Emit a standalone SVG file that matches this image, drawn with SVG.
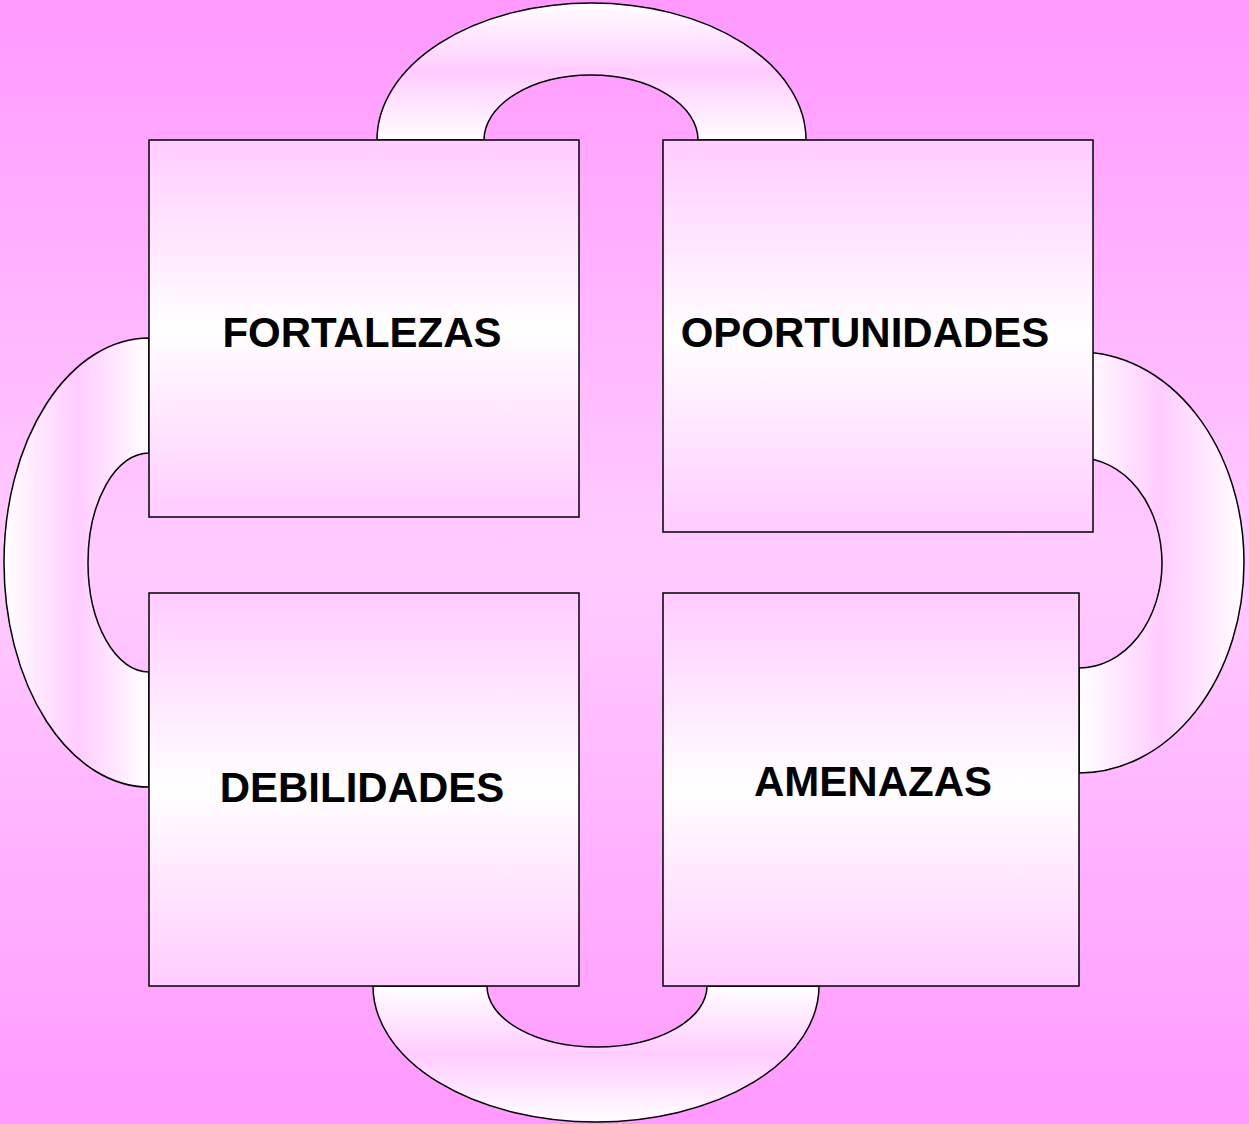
<svg xmlns="http://www.w3.org/2000/svg" width="1249" height="1124" viewBox="0 0 1249 1124">
<defs>
<linearGradient id="bg" x1="0" y1="0" x2="0" y2="1">
<stop offset="0" stop-color="#FF99FF"/>
<stop offset="0.5" stop-color="#FFCCFF"/>
<stop offset="1" stop-color="#FF99FF"/>
</linearGradient>
<linearGradient id="box" x1="0" y1="0" x2="0" y2="1">
<stop offset="0" stop-color="#FFCCFF"/>
<stop offset="0.5" stop-color="#FFFFFF"/>
<stop offset="1" stop-color="#FFCCFF"/>
</linearGradient>
<linearGradient id="ringV" x1="0" y1="0" x2="0" y2="1">
<stop offset="0" stop-color="#FFFFFF"/>
<stop offset="0.5" stop-color="#FFCCFF"/>
<stop offset="1" stop-color="#FFFFFF"/>
</linearGradient>
<linearGradient id="ringH" x1="0" y1="0" x2="1" y2="0">
<stop offset="0" stop-color="#FFFFFF"/>
<stop offset="0.5" stop-color="#FFCCFF"/>
<stop offset="1" stop-color="#FFFFFF"/>
</linearGradient>
</defs>
<style>
.ring{stroke:#000;stroke-width:1.5}
.box{fill:url(#box);stroke:#000;stroke-width:1.5}
.lbl{font-family:"Liberation Sans",Arial,sans-serif;font-weight:bold;font-size:42px;fill:#000;text-anchor:middle}
</style>
<rect x="0" y="0" width="1249" height="1124" fill="url(#bg)"/>
<g id="connectors">
<path class="ring" fill="url(#ringV)" d="M377,140 A214.5,137 0 0 1 806,140 L698,140 A107,65 0 0 0 484,140 Z"/>
<path class="ring" fill="url(#ringH)" d="M149,338 A145,224.5 0 0 0 149,787 L149,672 A61,109.5 0 0 1 149,453 Z"/>
<path class="ring" fill="url(#ringH)" d="M1079,352 A165,210.5 0 0 1 1079,773 L1079,668 A83,105 0 0 0 1079,458 Z"/>
<path class="ring" fill="url(#ringV)" d="M819,986 A223,136 0 0 1 373,986 L487,986 A110,61 0 0 0 707,986 Z"/>
</g>
<g id="fortalezas">
<rect class="box" x="149" y="140" width="430" height="377"/>
<text class="lbl" x="362" y="347">FORTALEZAS</text>
</g>
<g id="oportunidades">
<rect class="box" x="663" y="140" width="430" height="392"/>
<text class="lbl" x="865" y="347">OPORTUNIDADES</text>
</g>
<g id="debilidades">
<rect class="box" x="149" y="593" width="430" height="393"/>
<text class="lbl" x="362" y="802">DEBILIDADES</text>
</g>
<g id="amenazas">
<rect class="box" x="663" y="593" width="416" height="393"/>
<text class="lbl" x="873" y="796">AMENAZAS</text>
</g>
</svg>
